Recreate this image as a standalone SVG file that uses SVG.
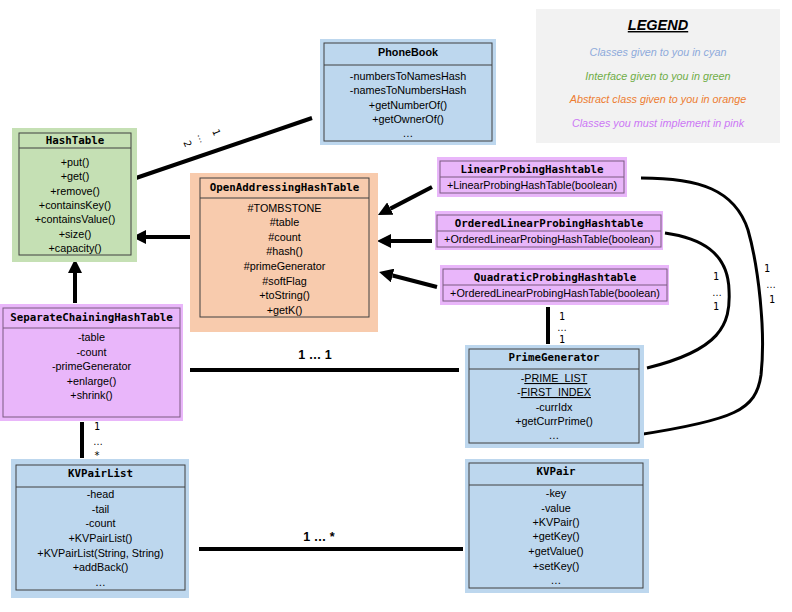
<svg xmlns="http://www.w3.org/2000/svg" width="792" height="612" viewBox="0 0 792 612">
<defs>
<style>
.bgc{fill:#bdd7ee}
.bgg{fill:#c5e0b4}
.bgo{fill:#f8cbad}
.bgp{fill:#e9b6fa}
.box{fill:none;stroke:#404040;stroke-width:1}
.boxp{fill:none;stroke:#7a5a80;stroke-width:1}
.t{font-family:"Liberation Sans",Arial,sans-serif;font-size:10.8px;fill:#000;text-anchor:middle}
.h{font-family:"DejaVu Sans Mono","Liberation Mono",monospace;font-weight:bold;font-size:10.8px;fill:#000;text-anchor:middle}
.hb{font-family:"Liberation Sans",Arial,sans-serif;font-weight:bold;font-size:10.8px;fill:#000;text-anchor:middle}
.m{font-family:"DejaVu Sans Mono","Liberation Mono",monospace;font-size:10px;fill:#000;text-anchor:middle}
.e{font-family:"Liberation Sans",Arial,sans-serif;font-size:10px;fill:#000;text-anchor:middle}
.mb{font-family:"Liberation Sans",Arial,sans-serif;font-weight:bold;font-size:12.5px;fill:#000;text-anchor:middle}
.lg{font-family:"Liberation Sans",Arial,sans-serif;font-style:italic;font-size:10.8px;text-anchor:middle}
.c{stroke:#000;stroke-width:4;fill:none}
.cv{stroke:#000;stroke-width:3;fill:none}
</style>
<marker id="arr" viewBox="0 0 10 10" refX="0" refY="5" markerUnits="userSpaceOnUse" markerWidth="14" markerHeight="14" orient="auto">
<path d="M0,0 L10,5 L0,10 z" fill="#000"/>
</marker>
</defs>
<rect width="792" height="612" fill="#fff"/>

<g id="legend">
<rect x="536" y="9" width="244" height="134" fill="#f2f2f2"/>
<text x="658" y="30" font-family="Liberation Sans, Arial, sans-serif" font-size="14.5" font-weight="bold" font-style="italic" text-anchor="middle" text-decoration="underline" fill="#000">LEGEND</text>
<text class="lg" x="658" y="56" fill="#8eaadb">Classes given to you in cyan</text>
<text class="lg" x="658" y="80" fill="#70ad47">Interface given to you in green</text>
<text class="lg" x="658" y="103" fill="#ed7d31">Abstract class given to you in orange</text>
<text class="lg" x="658" y="127" fill="#cc77f5">Classes you must implement in pink</text>
</g>

<g id="connectors">
<line class="c" x1="136" y1="178" x2="312" y2="118" stroke-width="4.5"/>
<line class="c" x1="193" y1="237" x2="146" y2="237" marker-end="url(#arr)"/>
<line class="c" x1="75" y1="303" x2="75" y2="273" marker-end="url(#arr)"/>
<line class="c" x1="432" y1="187" x2="390.4" y2="208.6" marker-end="url(#arr)"/>
<line class="c" x1="432" y1="241" x2="391" y2="241" marker-end="url(#arr)"/>
<line class="c" x1="437" y1="287" x2="392.6" y2="275.5" marker-end="url(#arr)"/>
<line class="c" x1="548" y1="307" x2="548" y2="344"/>
<line class="c" x1="190" y1="370" x2="459" y2="370"/>
<line class="c" x1="82" y1="422" x2="82" y2="458"/>
<line class="c" x1="199" y1="549" x2="463" y2="549"/>
<path class="cv" d="M641,178 C700,178 735,190 748,230 C758,265 766,330 761,375 C756,410 735,420 637,435"/>
<path class="cv" d="M665,233 C700,238 728,252 729,290 C731,325 720,350 647,368"/>
<g transform="translate(202,138) rotate(68)">
<text class="m" x="0" y="-12">1</text>
<text class="e" x="0" y="3">…</text>
<text class="m" x="0" y="19">2</text>
</g>
<text class="m" x="562" y="320">1</text>
<text class="e" x="562" y="331">…</text>
<text class="m" x="562" y="343">1</text>
<text class="m" x="97" y="430">1</text>
<text class="e" x="98" y="445">…</text>
<text class="m" x="97" y="459">*</text>
<text class="m" x="767" y="272">1</text>
<text class="e" x="771" y="288">…</text>
<text class="m" x="772" y="303">1</text>
<text class="m" x="716" y="280">1</text>
<text class="e" x="717" y="296">…</text>
<text class="m" x="716" y="310">1</text>
<text class="mb" x="315" y="359">1 … 1</text>
<text class="mb" x="319" y="541">1 … *</text>
</g>

<g id="PhoneBook">
<rect class="bgc" x="320" y="39" width="176" height="106"/>
<rect class="box" x="324" y="43" width="168" height="98"/>
<line class="box" x1="324" y1="65" x2="492" y2="65"/>
<text class="hb" x="408" y="56">PhoneBook</text>
<text class="t" x="408" y="80">-numbersToNamesHash</text>
<text class="t" x="408" y="94">-namesToNumbersHash</text>
<text class="t" x="408" y="108.5">+getNumberOf()</text>
<text class="t" x="408" y="123">+getOwnerOf()</text>
<text class="t" x="408" y="137">…</text>
</g>

<g id="HashTable">
<rect class="bgg" x="12" y="128" width="125" height="134"/>
<rect class="box" x="19" y="133" width="112" height="122"/>
<line class="box" x1="19" y1="148" x2="131" y2="148"/>
<text class="h" x="75" y="144">HashTable</text>
<text class="t" x="75" y="166">+put()</text>
<text class="t" x="75" y="180.3">+get()</text>
<text class="t" x="75" y="194.6">+remove()</text>
<text class="t" x="75" y="209">+containsKey()</text>
<text class="t" x="75" y="223.3">+containsValue()</text>
<text class="t" x="75" y="237.6">+size()</text>
<text class="t" x="75" y="252">+capacity()</text>
</g>

<g id="OpenAddressingHashTable">
<rect class="bgo" x="190" y="173" width="188" height="159"/>
<rect class="box" x="200" y="178" width="169" height="139"/>
<line class="box" x1="200" y1="198" x2="369" y2="198"/>
<text class="h" x="284.5" y="191">OpenAddressingHashTable</text>
<text class="t" x="284.5" y="212">#TOMBSTONE</text>
<text class="t" x="284.5" y="226">#table</text>
<text class="t" x="284.5" y="240.5">#count</text>
<text class="t" x="284.5" y="255">#hash()</text>
<text class="t" x="284.5" y="270">#primeGenerator</text>
<text class="t" x="284.5" y="285">#softFlag</text>
<text class="t" x="284.5" y="299">+toString()</text>
<text class="t" x="284.5" y="314">+getK()</text>
</g>

<g id="LinearProbingHashtable">
<rect class="bgp" x="437" y="157" width="190" height="40"/>
<rect class="boxp" x="440" y="161" width="184" height="32"/>
<line class="boxp" x1="440" y1="177" x2="624" y2="177"/>
<text class="h" x="532" y="173">LinearProbingHashtable</text>
<text class="t" x="532" y="189">+LinearProbingHashTable(boolean)</text>
</g>

<g id="OrderedLinearProbingHashtable">
<rect class="bgp" x="435" y="211" width="228" height="39"/>
<rect class="boxp" x="437" y="215" width="224" height="32"/>
<line class="boxp" x1="437" y1="231" x2="661" y2="231"/>
<text class="h" x="549" y="227">OrderedLinearProbingHashtable</text>
<text class="t" x="549" y="243">+OrderedLinearProbingHashTable(boolean)</text>
</g>

<g id="QuadraticProbingHashtable">
<rect class="bgp" x="440" y="265" width="229" height="40"/>
<rect class="boxp" x="443" y="269" width="224" height="32"/>
<line class="boxp" x1="443" y1="285" x2="667" y2="285"/>
<text class="h" x="555" y="281">QuadraticProbingHashtable</text>
<text class="t" x="555" y="297">+OrderedLinearProbingHashTable(boolean)</text>
</g>

<g id="SeparateChainingHashTable">
<rect class="bgp" x="0" y="304" width="183" height="117"/>
<rect class="boxp" x="3" y="308" width="177" height="109"/>
<line class="boxp" x1="3" y1="328" x2="180" y2="328"/>
<text class="h" x="91.5" y="320.5">SeparateChainingHashTable</text>
<text class="t" x="91.5" y="341">-table</text>
<text class="t" x="91.5" y="356">-count</text>
<text class="t" x="91.5" y="370">-primeGenerator</text>
<text class="t" x="91.5" y="385">+enlarge()</text>
<text class="t" x="91.5" y="399">+shrink()</text>
</g>

<g id="PrimeGenerator">
<rect class="bgc" x="465" y="345" width="179" height="103"/>
<rect class="box" x="469" y="349" width="170" height="94"/>
<line class="box" x1="469" y1="369" x2="639" y2="369"/>
<text class="h" x="554" y="361">PrimeGenerator</text>
<text class="t" x="554" y="382">-<tspan text-decoration="underline">PRIME_LIST</tspan></text>
<text class="t" x="554" y="396">-<tspan text-decoration="underline">FIRST_INDEX</tspan></text>
<text class="t" x="554" y="411">-currIdx</text>
<text class="t" x="554" y="425">+getCurrPrime()</text>
<text class="t" x="554" y="439">…</text>
</g>

<g id="KVPairList">
<rect class="bgc" x="11" y="459" width="178" height="139"/>
<rect class="box" x="16" y="465" width="169" height="125"/>
<line class="box" x1="16" y1="487" x2="185" y2="487"/>
<text class="h" x="100.5" y="477">KVPairList</text>
<text class="t" x="100.5" y="498">-head</text>
<text class="t" x="100.5" y="513">-tail</text>
<text class="t" x="100.5" y="527">-count</text>
<text class="t" x="100.5" y="542">+KVPairList()</text>
<text class="t" x="100.5" y="557">+KVPairList(String, String)</text>
<text class="t" x="100.5" y="571">+addBack()</text>
<text class="t" x="100.5" y="586">…</text>
</g>

<g id="KVPair">
<rect class="bgc" x="465" y="459" width="184" height="134"/>
<rect class="box" x="469" y="463" width="174" height="125"/>
<line class="box" x1="469" y1="485" x2="643" y2="485"/>
<text class="h" x="556" y="475">KVPair</text>
<text class="t" x="556" y="497">-key</text>
<text class="t" x="556" y="512">-value</text>
<text class="t" x="556" y="526">+KVPair()</text>
<text class="t" x="556" y="540">+getKey()</text>
<text class="t" x="556" y="555">+getValue()</text>
<text class="t" x="556" y="570">+setKey()</text>
<text class="t" x="556" y="584">…</text>
</g>
</svg>
